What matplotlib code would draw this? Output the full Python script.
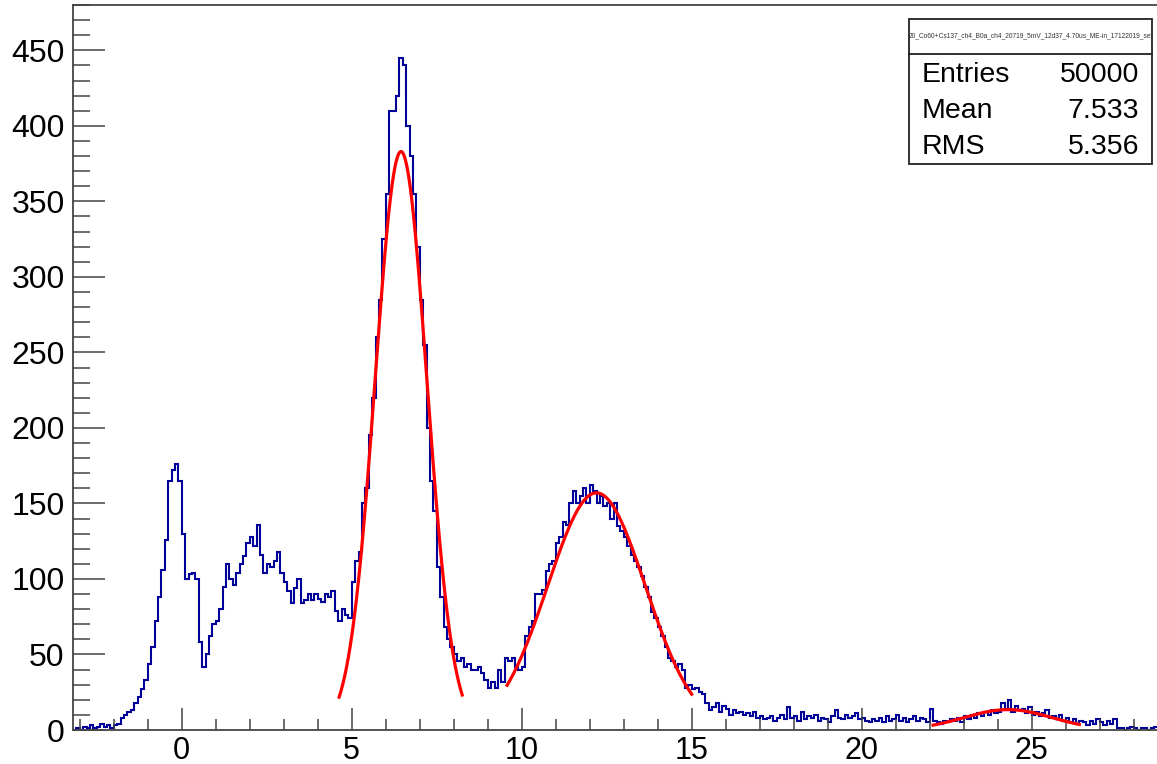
import numpy as np
import matplotlib
matplotlib.use("Agg")
import matplotlib.pyplot as plt
from matplotlib.ticker import MultipleLocator
from matplotlib.patches import Rectangle
from matplotlib.lines import Line2D

# histogram binning (0.1 wide bins from -3.2)
bin_lo = -3.2
bin_width = 0.1

# bin contents, ten bins per row (row start x in comment)
counts = [
    0, 1, 0, 2, 1, 3, 1, 2, 4, 2,                  # -3.2
    3, 1, 3, 4, 8, 10, 12, 13, 18, 22,             # -2.2
    27, 33, 44, 55, 72, 88, 106, 126, 165, 172,    # -1.2
    176, 165, 130, 100, 103, 104, 100, 58, 42, 50, # -0.2
    62, 70, 72, 80, 95, 110, 100, 96, 104, 110,    # 0.8
    115, 124, 128, 122, 136, 116, 104, 110, 108, 112,  # 1.8
    118, 104, 98, 92, 84, 94, 100, 84, 86, 90,     # 2.8
    86, 90, 87, 85, 90, 88, 92, 79, 72, 80,        # 3.8
    76, 74, 98, 112, 118, 150, 160, 195, 220, 260, # 4.8
    285, 325, 355, 410, 410, 420, 445, 440, 400, 380,  # 5.8
    355, 320, 285, 255, 200, 165, 145, 108, 88, 68,    # 6.8
    60, 55, 50, 46, 48, 42, 44, 40, 40, 42,        # 7.8
    38, 33, 28, 32, 28, 40, 32, 48, 46, 48,        # 8.8
    42, 40, 42, 62, 68, 72, 90, 90, 93, 105,       # 9.8
    110, 112, 124, 128, 138, 136, 150, 158, 150, 155,  # 10.8
    160, 150, 162, 158, 150, 155, 148, 150, 140, 150,  # 11.8
    135, 132, 128, 122, 116, 112, 108, 102, 95, 88,    # 12.8
    78, 74, 68, 62, 55, 48, 46, 42, 44, 40,        # 13.8
    28, 30, 27, 28, 25, 24, 18, 13, 15, 18,        # 14.8
    12, 16, 14, 10, 13, 11, 12, 10, 11, 9,         # 15.8
    12, 8, 9, 7, 8, 9, 6, 8, 10, 7,                # 16.8
    15, 8, 9, 6, 12, 7, 9, 8, 10, 6,               # 17.8
    8, 7, 5, 9, 13, 8, 7, 10, 8, 9,                # 18.8
    11, 7, 8, 6, 5, 7, 6, 8, 5, 9,                 # 19.8
    6, 7, 10, 6, 8, 5, 7, 9, 6, 8,                 # 20.8
    7, 5, 14, 6, 5, 4, 6, 5, 7, 6,                 # 21.8
    8, 5, 9, 7, 10, 8, 11, 9, 12, 10,              # 22.8
    13, 11, 12, 18, 14, 20, 12, 16, 13, 14,        # 23.8
    11, 15, 10, 12, 9, 11, 13, 8, 9, 7,            # 24.8
    10, 6, 8, 5, 7, 4, 6, 5, 3, 6,                 # 25.8
    4, 7, 5, 3, 6, 4, 7, 1, 1, 0,                  # 26.8
    1, 2, 1, 0, 1, 1, 0, 1, 2, 1,                  # 27.8
    0, 1,                                          # 28.8
]

# gaussian fits: (amplitude, mean, sigma, x from, x to)
fit_peak1 = (383, 6.45, 0.76, 4.63, 8.25)
fit_peak2 = (157, 12.2, 1.44, 9.57, 15.0)
fit_peak3 = (13.5, 24.3, 1.3, 22.1, 26.4)

stats_title = "20_Co60+Cs137_ch4_B0a_ch4_20719_5mV_12d37_4.70us_ME-in_17122019_sel"
stats_names = ["Entries", "Mean", "RMS"]
stats_values = ["50000", "7.533", "5.356"]

plt.rcParams["font.family"] = ["Liberation Sans", "DejaVu Sans"]

fig = plt.figure(figsize=(11.57, 7.64), dpi=100)
W, H = 1157, 764
x_min, x_max = -3.2, 29.0
y_min, y_max = 0, 480
px_per_unit = 34.0
ax_left = 72.9
ax_top, ax_bottom = 5, 730
ax = fig.add_axes([ax_left / W, (H - ax_bottom) / H,
                   (x_max - x_min) * px_per_unit / W, (ax_bottom - ax_top) / H])

edges = bin_lo + bin_width * np.arange(len(counts) + 1)
ax.stairs(counts, edges, color="#000099", lw=1.5, baseline=None)

for amp, mu, sig, lo, hi in (fit_peak1, fit_peak2, fit_peak3):
    xs = np.linspace(lo, hi, 200)
    ax.plot(xs, amp * np.exp(-0.5 * ((xs - mu) / sig) ** 2), color="red", lw=2.3)

ax.set_xlim(x_min, x_max)
ax.set_ylim(y_min, y_max)

ax.xaxis.set_major_locator(MultipleLocator(5))
ax.xaxis.set_minor_locator(MultipleLocator(1))
ax.yaxis.set_major_locator(MultipleLocator(50))
ax.yaxis.set_minor_locator(MultipleLocator(10))

axis_col = "#444444"
ax.tick_params(axis="x", which="major", direction="in", length=16, width=1.1,
               color=axis_col, labelsize=22, pad=4)
ax.tick_params(axis="x", which="minor", direction="in", length=8, width=1.1,
               color=axis_col)
ax.tick_params(axis="y", which="major", direction="in", length=23, width=1.1,
               color=axis_col, labelsize=23, pad=6)
ax.tick_params(axis="y", which="minor", direction="in", length=12, width=1.1,
               color=axis_col)
for s in ax.spines.values():
    s.set_color(axis_col)
    s.set_linewidth(1.3)

# stats box
bl, br = 909 / W, 1152 / W
bt, bb = (H - 19) / H, (H - 164) / H
sep = (H - 54) / H
fig.patches.append(Rectangle((bl, bb), br - bl, bt - bb, transform=fig.transFigure,
                             fill=True, facecolor="white", edgecolor="#222222", lw=1.3))
fig.lines.append(Line2D([bl, br], [sep, sep], transform=fig.transFigure,
                        color="#222222", lw=1.3))
fig.text((bl + br) / 2, (H - 36) / H, stats_title, fontsize=4.8, ha="center",
         va="center", color="#333333")
for i, (name, val) in enumerate(zip(stats_names, stats_values)):
    yy = (H - (75 + 36 * i)) / H
    fig.text(922 / W, yy, name, fontsize=20.5, ha="left", va="center")
    fig.text(1139 / W, yy, val, fontsize=20.5, ha="right", va="center")

fig.savefig("out.png", dpi=100)
